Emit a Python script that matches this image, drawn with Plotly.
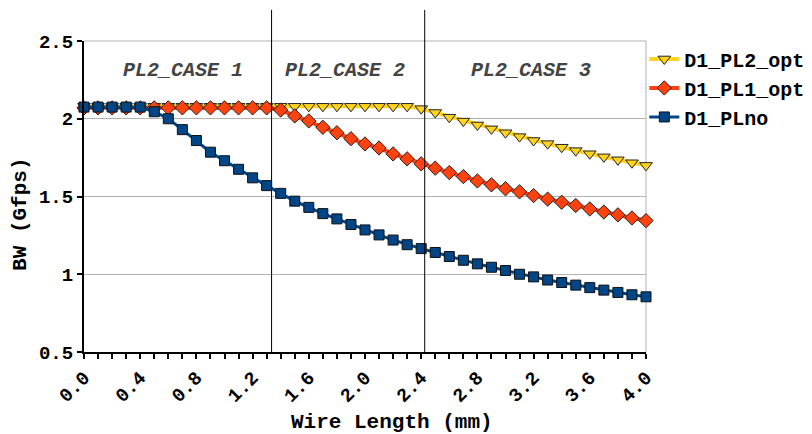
import plotly.graph_objects as go

wire_length = [0.0, 0.1, 0.2, 0.3, 0.4, 0.5, 0.6, 0.7, 0.8, 0.9,
               1.0, 1.1, 1.2, 1.3, 1.4, 1.5, 1.6, 1.7, 1.8, 1.9,
               2.0, 2.1, 2.2, 2.3, 2.4, 2.5, 2.6, 2.7, 2.8, 2.9,
               3.0, 3.1, 3.2, 3.3, 3.4, 3.5, 3.6, 3.7, 3.8, 3.9, 4.0]

d1_pl2_opt = [2.08, 2.08, 2.08, 2.08, 2.08, 2.08, 2.08, 2.08, 2.08, 2.08,
              2.08, 2.08, 2.08, 2.08, 2.08, 2.08, 2.08, 2.08, 2.08, 2.08,
              2.08, 2.08, 2.08, 2.08, 2.065, 2.04, 2.01, 1.985, 1.96, 1.935,
              1.91, 1.885, 1.86, 1.84, 1.817, 1.795, 1.775, 1.755, 1.736, 1.717, 1.70]

d1_pl1_opt = [2.07, 2.07, 2.07, 2.07, 2.07, 2.07, 2.07, 2.07, 2.07, 2.07,
              2.07, 2.07, 2.07, 2.07, 2.056, 2.018, 1.986, 1.945, 1.91, 1.872,
              1.838, 1.812, 1.774, 1.742, 1.71, 1.682, 1.654, 1.628, 1.60, 1.575,
              1.55, 1.53, 1.506, 1.483, 1.463, 1.442, 1.42, 1.40, 1.382, 1.362, 1.345]

d1_plno = [2.075, 2.075, 2.075, 2.075, 2.075, 2.045, 2.0, 1.93, 1.86, 1.785,
           1.73, 1.675, 1.62, 1.57, 1.52, 1.47, 1.43, 1.39, 1.356, 1.32,
           1.285, 1.253, 1.22, 1.19, 1.165, 1.14, 1.114, 1.09, 1.067, 1.045,
           1.024, 1.0, 0.983, 0.963, 0.947, 0.93, 0.914, 0.898, 0.883, 0.868, 0.855]

case_labels = ["PL2_CASE 1", "PL2_CASE 2", "PL2_CASE 3"]
case_label_x = [0.705, 1.86, 3.18]
case_boundaries = [1.335, 2.425]

FONT = "Liberation Mono"

fig = go.Figure()
fig.add_trace(go.Scatter(
    x=wire_length, y=d1_pl2_opt, name="D1_PL2_opt", mode="lines+markers",
    line=dict(color="#ffd320", width=4),
    marker=dict(symbol="triangle-down", size=11, color="#ffd320",
                line=dict(color="#222222", width=1)),
    cliponaxis=False))
fig.add_trace(go.Scatter(
    x=wire_length, y=d1_pl1_opt, name="D1_PL1_opt", mode="lines+markers",
    line=dict(color="#ff420e", width=4),
    marker=dict(symbol="diamond", size=11, color="#ff420e",
                line=dict(color="#222222", width=1)),
    cliponaxis=False))
fig.add_trace(go.Scatter(
    x=wire_length, y=d1_plno, name="D1_PLno", mode="lines+markers",
    line=dict(color="#004586", width=3),
    marker=dict(symbol="square", size=10, color="#004586",
                line=dict(color="#111111", width=1)),
    cliponaxis=False))

for xb in case_boundaries:
    fig.add_shape(type="line", xref="x", yref="paper", x0=xb, x1=xb, y0=0, y1=1.1,
                  line=dict(color="black", width=1))

for lab, xl in zip(case_labels, case_label_x):
    fig.add_annotation(x=xl, y=2.31, xref="x", yref="y", text=lab, showarrow=False,
                       font=dict(family=FONT, size=20, color="#444444",
                                 weight="bold", style="italic"))

# axis titles placed as annotations (plot area: x 84..646, y 41..352 px in window)
fig.add_annotation(x=-0.112, y=0.441, xref="paper", yref="paper", text="BW (Gfps)",
                   showarrow=False, textangle=-90, xanchor="center", yanchor="middle",
                   font=dict(family=FONT, size=21, color="black", weight="bold"))
fig.add_annotation(x=0.548, y=-0.228, xref="paper", yref="paper",
                   text="Wire Length (mm)", showarrow=False,
                   xanchor="center", yanchor="middle",
                   font=dict(family=FONT, size=21, color="black", weight="bold"))

# page body has an 8px margin, so the figure is 8px smaller and margins shifted
fig.update_layout(
    width=804, height=426,
    margin=dict(l=76, r=166, t=33, b=82, autoexpand=False),
    paper_bgcolor="white", plot_bgcolor="white",
    font=dict(family=FONT, size=20, color="black", weight="bold"),
    showlegend=True,
    legend=dict(x=0.997, y=1.005, xanchor="left", yanchor="top",
                font=dict(family=FONT, size=20, color="black", weight="bold"),
                bgcolor="rgba(0,0,0,0)", itemwidth=30, tracegroupgap=0),
    xaxis=dict(range=[0, 4], tickmode="linear", tick0=0, dtick=0.4,
               tickformat=".1f", tickangle=-45, ticks="outside", ticklen=5,
               tickcolor="black", tickwidth=2, showline=True, linecolor="black",
               linewidth=2, showgrid=False, zeroline=False, mirror=False,
               automargin=False,
               tickfont=dict(family=FONT, size=19, weight="bold"),
               minor=dict(dtick=0.1, ticks="outside", ticklen=5, tickcolor="black",
                          tickwidth=2, showgrid=False)),
    yaxis=dict(range=[0.5, 2.5], tickmode="linear", tick0=0.5, dtick=0.5,
               ticks="outside", ticklen=5, tickcolor="black", tickwidth=2,
               showline=True, linecolor="black", linewidth=2, automargin=False,
               showgrid=True, gridcolor="#b3b3b3", gridwidth=1, zeroline=False,
               tickfont=dict(family=FONT, size=19, weight="bold")),
)

# gray top and right border of plot area
fig.add_shape(type="line", xref="paper", yref="paper", x0=0, x1=1, y0=1, y1=1,
              line=dict(color="#b3b3b3", width=1), layer="below")
fig.add_shape(type="line", xref="paper", yref="paper", x0=1, x1=1, y0=0, y1=1,
              line=dict(color="#b3b3b3", width=1), layer="below")

fig.write_html("out.html")
